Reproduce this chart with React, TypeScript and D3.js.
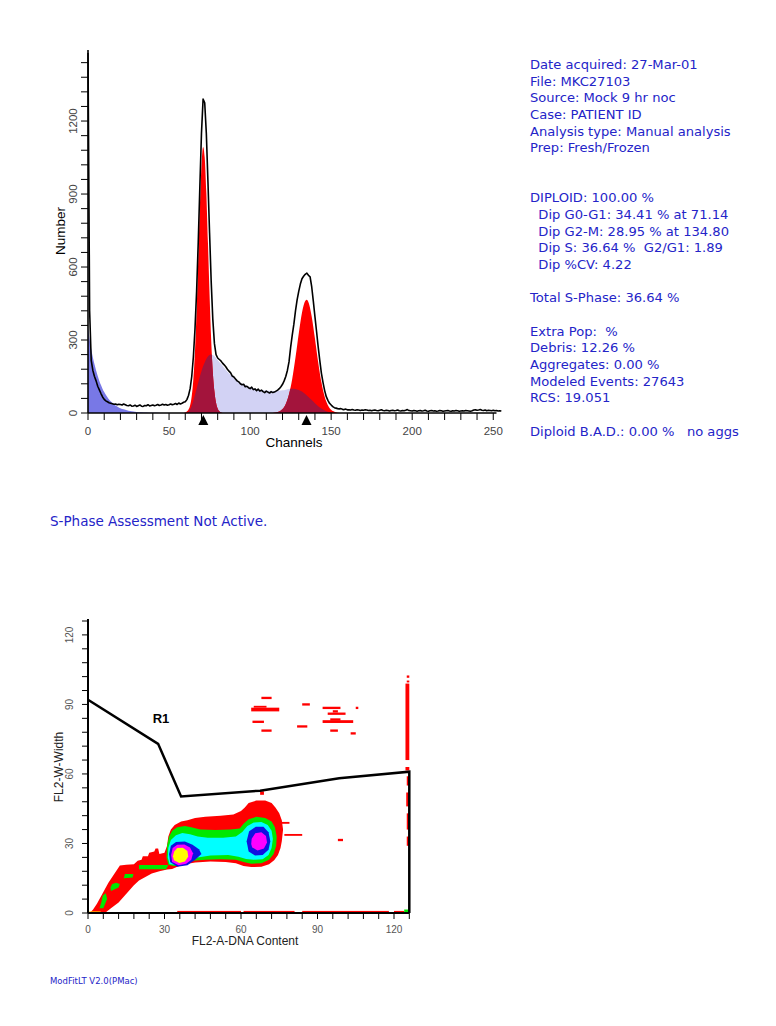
import React from 'react';
import * as d3 from 'd3';

// ---------------- Histogram data ----------------
const channelCounts: number[] = [
  1480, 420, 215, 175, 150, 132, 110, 95, 80, 66,
  56, 50, 46, 42, 40, 38, 36, 37, 34, 36,
  35, 33, 37, 34, 31, 30, 33, 28, 29, 32,
  27, 30, 33, 28, 27, 31, 30, 34, 29, 31,
  33, 30, 32, 35, 31, 33, 36, 33, 35, 32,
  34, 37, 34, 36, 39, 35, 41, 37, 40, 44,
  46, 55, 72, 100, 150, 230, 345, 500, 700, 930,
  1150, 1290, 1275, 1150, 950, 740, 540, 385, 285, 240,
  226, 220, 214, 205, 198, 190, 180, 172, 165, 152,
  148, 140, 132, 128, 120, 116, 118, 108, 110, 104,
  100, 106, 96, 99, 92, 98, 90, 94, 88, 84,
  90, 86, 82, 88, 84, 86, 90, 94, 100, 108,
  118, 132, 150, 175, 210, 270, 320, 365, 420, 465,
  500, 530, 552, 562, 570, 575, 566, 560, 519, 460,
  396, 335, 272, 215, 163, 125, 92, 67, 52, 40,
  33, 26, 22, 20, 18, 17, 18, 15, 14, 16,
  13, 13, 12, 14, 12, 11, 13, 12, 10, 12,
  11, 13, 12, 10, 11, 9, 11, 12, 10, 9,
  11, 13, 10, 9, 11, 10, 8, 10, 11, 9,
  10, 12, 9, 8, 10, 9, 11, 14, 10, 9,
  8, 10, 9, 7, 9, 10, 8, 9, 11, 8,
  7, 9, 10, 8, 9, 7, 8, 10, 9, 7,
  8, 9, 10, 8, 7, 9, 8, 10, 9, 7,
  8, 9, 8, 10, 9, 8, 7, 9, 12, 13,
  11, 12, 14, 11, 10, 12, 9, 11, 10, 9,
  11, 9, 10, 8, 9, 8,
];

const debrisChannels = [0, 1, 2, 3, 4, 5, 6, 7, 8, 9, 10, 11, 12, 13, 14, 15, 16, 17, 18, 19, 20, 22, 24, 26, 28, 30, 33, 36, 40, 45, 50];
const debrisCounts = [350, 302, 262, 228, 200, 175, 152, 132, 115, 99, 86, 75, 65, 56, 48, 42, 36, 31, 27, 23, 20, 15, 11, 8, 6, 4.5, 3, 2, 1, 0.3, 0];

const g1Channels = [59, 60, 61, 62, 63, 64, 65, 66, 67, 68, 69, 70, 71, 72, 73, 74, 75, 76, 77, 78, 79, 80, 81, 82, 83];
const g1Counts = [0, 2, 6, 14, 32, 70, 140, 255, 420, 630, 845, 1015, 1093, 1050, 905, 700, 485, 300, 168, 88, 42, 18, 7, 2, 0];

const g2Channels = [114, 116, 118, 120, 122, 124, 126, 128, 130, 132, 134, 135, 136, 138, 140, 142, 144, 146, 148, 150, 152, 154, 156];
const g2Counts = [0, 2, 6, 16, 37, 77, 141, 228, 326, 412, 460, 465, 455, 397, 306, 209, 126, 67, 32, 13, 5, 1.5, 0];

const sChannels = [60, 62, 63, 64, 65, 66, 67, 68, 69, 70, 71, 72, 73, 74, 75, 76, 77, 78, 79, 80,
  82, 84, 86, 88, 90, 92, 94, 96, 98, 100, 102, 104, 106, 108, 110, 112, 114, 116, 118, 120,
  122, 124, 126, 128, 130, 132, 134, 136, 138, 140, 142, 144, 146, 148, 150, 152];
const sCounts = [0, 5, 15, 30, 50, 75, 100, 125, 150, 172, 192, 208, 222, 232, 238, 240, 238, 233, 226, 218,
  202, 186, 170, 156, 144, 134, 125, 118, 112, 107, 103, 99, 96, 94, 92, 91, 90, 90, 91, 93,
  96, 99, 100, 99, 95, 88, 78, 66, 53, 40, 28, 18, 10, 5, 2, 0];

const peakMarkers = [71.14, 134.8];
const histXLabels = [0, 50, 100, 150, 200, 250];
const histYLabels = [0, 300, 600, 900, 1200];

const infoLines = [
  'Date acquired: 27-Mar-01',
  'File: MKC27103',
  'Source: Mock 9 hr noc',
  'Case: PATIENT ID',
  'Analysis type: Manual analysis',
  'Prep: Fresh/Frozen',
  '',
  '',
  'DIPLOID: 100.00 %',
  '  Dip G0-G1: 34.41 % at 71.14',
  '  Dip G2-M: 28.95 % at 134.80',
  '  Dip S: 36.64 %  G2/G1: 1.89',
  '  Dip %CV: 4.22',
  '',
  'Total S-Phase: 36.64 %',
  '',
  'Extra Pop:  %',
  'Debris: 12.26 %',
  'Aggregates: 0.00 %',
  'Modeled Events: 27643',
  'RCS: 19.051',
  '',
  'Diploid B.A.D.: 0.00 %   no aggs',
];

// ---------------- Dot plot data ----------------
type P = [number, number];
const densityLabels = [0, 30, 60, 90, 120];
const gateX = [0, 27.5, 36.5, 67.5, 98.5, 126, 126];
const gateY = [92, 73, 50.3, 52.8, 58.1, 61, 0];

const redRegion: P[] = [
  [1, 0.3], [7, 0.3], [9, 2], [12, 4.5], [14, 7], [16, 9.5], [18, 12], [20, 14], [22.5, 15.5], [25, 17],
  [28, 18], [31, 18.8], [33, 19], [35, 20], [38, 21], [42, 21.8], [48, 22.2], [54, 22], [58, 21.5],
  [61, 20.3], [64, 19.8], [68, 20], [71, 21], [73, 22.8], [74.5, 25], [75.5, 28], [76, 31], [76.5, 36],
  [76, 40], [75, 43], [73.5, 45.5], [72, 47.5], [69.5, 48.5], [66, 48.5], [63, 47.5], [61.5, 45.5],
  [60, 44], [57, 42.5], [52, 42], [46, 41.5], [42, 41], [39, 40], [36.5, 39.5], [34, 38], [32.5, 36],
  [31.5, 33], [31, 29], [30, 26], [28, 25.5], [27.5, 27.8], [26.5, 27.8], [26, 26.5], [24, 26],
  [23.5, 24.5], [21.5, 24.5], [21, 23], [19.5, 22.5], [18, 21], [15, 20.8], [12.5, 20.5], [11, 18],
  [9.5, 15.5], [8, 13], [6.5, 10], [5, 7], [3.5, 4], [2, 1.5],
];
const greenRegions: P[][] = [
  [[31.5, 20.8], [34, 20.2], [37, 21.2], [41, 22.5], [46, 23], [52, 23.2], [58, 23], [61, 22], [64, 21.3],
   [68, 21.5], [71, 23], [72.8, 25.5], [73.8, 29], [74, 33], [73.3, 37], [72, 39.5], [69.5, 41], [66, 41.5],
   [63, 40.5], [61, 38.5], [59.5, 36.5], [56, 36], [50, 35.8], [44, 36], [40.5, 37], [38, 37.5], [35, 37],
   [33, 35.5], [31.8, 33], [31, 29], [30.8, 24]],
  [[20, 18.9], [30.6, 18.9], [31.5, 20.7], [20, 20.7]],
  [[4.5, 2], [6, 2], [7.5, 6], [7, 8.5], [5.8, 7.5], [5.2, 4.5]],
  [[9, 9.5], [12, 11], [12.5, 12.5], [11, 13], [9.5, 12.5], [8.8, 11]],
  [[14, 15], [17.5, 15.3], [17.8, 16.8], [14.5, 16.8]],
];
const cyanRegion: P[] = [
  [32, 21], [35, 20.8], [39, 22], [43, 24], [48, 24.8], [55, 25], [59, 24.3], [62, 23.3], [65, 23],
  [68.5, 23.2], [70.8, 25], [72, 28], [72.5, 32], [72, 35.5], [70.5, 38], [68, 39.3], [65, 39], [62.5, 37.5],
  [60.5, 35], [58, 33], [53, 32.5], [47, 32.5], [43, 33], [40, 34], [37, 34.5], [34.5, 33.5], [32.5, 31.5],
  [31.5, 28], [31.3, 24],
];
const blueRegions: P[][] = [
  [[32.2, 22], [35, 20], [39, 20.6], [42, 23], [44.5, 25.5], [43.5, 27.5], [41, 29.5], [38, 30.8], [34.5, 30.6], [32.5, 29], [31.8, 25.5]],
  [[63, 26.5], [65.5, 24.8], [68.5, 25], [70.8, 27.3], [71.5, 31], [70.8, 34.8], [68.8, 37.2], [65.8, 37.2], [63.2, 35.3], [62.2, 31]],
];
const magentaRegions: P[][] = [
  [[33, 22], [35.5, 20.6], [38.5, 21.2], [40.5, 23], [41.2, 25.8], [40, 28.3], [37.8, 29.6], [35, 29.5], [33.2, 28], [32.6, 25]],
  [[64.4, 28.3], [66.5, 27], [69, 27.8], [70.2, 30.4], [69.8, 33.2], [68, 34.8], [65.6, 34.4], [64.2, 32], [64, 29.8]],
];
const yellowRegion: P[] = [
  [33.7, 22.8], [35.8, 21.6], [38, 22.2], [39.3, 24.3], [39, 26.8], [37.2, 28.2], [35, 28], [33.8, 26.5], [33.3, 24.5],
];
// isolated red cells: [x0, x1, y0, y1]
const redCells: [number, number, number, number][] = [
  [68, 72, 92.3, 93.3], [64, 75, 87, 88.6], [65, 70, 88.6, 89.4], [64.5, 69, 82, 83], [68, 72, 78.2, 79.2],
  [84, 87, 89.5, 90.5], [82, 86, 80, 81], [92, 99, 88, 89], [94, 101, 85.5, 86.5], [96, 98, 86.5, 87.5],
  [92, 104, 82, 83.2], [95, 99, 83, 84], [95, 98, 78.2, 79.2], [103, 105, 77, 78], [105, 106, 88, 89],
  [67.5, 69, 51, 52.5], [98, 100, 31, 32], [77, 84, 33.3, 34.1], [76, 79, 38.5, 39.3],
  [124.5, 126, 66, 99], [125, 126, 99.5, 100.3], [125, 126, 101.5, 102.5], [124.5, 126, 61.5, 63],
  [125, 126, 55, 59], [124.8, 126, 46, 52], [125, 126, 36, 43], [125, 126, 29, 33],
  [35, 60, 0, 0.9], [61, 81, 0, 0.9], [84, 118, 0, 0.9], [120, 124, 0, 0.9],
];
const greenCells: [number, number, number, number][] = [[124, 126, 0, 1.5]];
const yellowCells: [number, number, number, number][] = [[0.5, 5, 0, 0.7]];

// ---------------- Component ----------------
const FONT = '"Liberation Sans", Arial, sans-serif';
const INFO_FONT = '"DejaVu Sans", Verdana, sans-serif';
const TEXT_BLUE = '#2424c8';

export default function App() {
  // histogram scales
  const hx = d3.scaleLinear().domain([0, 255]).range([88, 88 + 255 * 1.621]);
  const hy = d3.scaleLinear().domain([0, 1492]).range([413, 50]);
  const area = d3.area<P>().x(d => hx(d[0])).y0(hy(0)).y1(d => hy(d[1])).curve(d3.curveMonotoneX);
  const zip = (a: number[], b: number[]): P[] => a.map((v, i) => [v, b[i]]);
  const debrisPath = area(zip(debrisChannels, debrisCounts)) || '';
  const g1Path = area(zip(g1Channels, g1Counts)) || '';
  const g2Path = area(zip(g2Channels, g2Counts)) || '';
  const sPath = area(zip(sChannels, sCounts)) || '';
  const dataLine = d3.line<number>()
    .x((_, i) => hx(i))
    .y(d => hy(Math.min(d, 1492)))(channelCounts) || '';
  const xMinor = d3.range(0, 251, 10);
  const yMinor = d3.range(0, 1441, 60);

  // dot plot scales
  const dx = d3.scaleLinear().domain([0, 126]).range([88, 409.3]);
  const dy = d3.scaleLinear().domain([0, 126]).range([913, 621]);
  const poly = d3.line<P>().x(d => dx(d[0])).y(d => dy(d[1])).curve(d3.curveLinearClosed);
  const gateLine = d3.line<number>().x(d => dx(d)).y((_, i) => dy(gateY[i]))(gateX) || '';
  const dTicks = d3.range(0, 127, 6);
  const cellRect = (c: [number, number, number, number], fill: string, k: string) => (
    <rect key={k} x={dx(c[0])} y={dy(c[3])} width={dx(c[1]) - dx(c[0])} height={dy(c[2]) - dy(c[3])} fill={fill} />
  );

  return (
    <svg width={776} height={1026} style={{ position: 'absolute', left: 0, top: 0, background: '#fff' }}
      xmlns="http://www.w3.org/2000/svg">
      <rect x={0} y={0} width={776} height={1026} fill="#fff" />
      <defs>
        <clipPath id="peakClip">
          <path d={g1Path} />
          <path d={g2Path} />
        </clipPath>
      </defs>

      {/* ---------- Histogram ---------- */}
      <path d={debrisPath} fill="#7878e6" />
      <path d={sPath} fill="#d2d2f4" />
      <path d={g1Path} fill="#ff0000" />
      <path d={g2Path} fill="#ff0000" />
      <path d={sPath} fill="#a3143c" clipPath="url(#peakClip)" />
      <path d={dataLine} fill="none" stroke="#000" strokeWidth={1.6} strokeLinejoin="round" />

      {/* axes */}
      <line x1={88} x2={88} y1={hy(0)} y2={50} stroke="#000" strokeWidth={1.6} />
      <line x1={88} x2={hx(252)} y1={hy(0)} y2={hy(0)} stroke="#000" strokeWidth={1.6} />
      {xMinor.map(t => (
        <line key={'hx' + t} x1={hx(t)} x2={hx(t)} y1={hy(0)} y2={hy(0) + 7} stroke="#000" strokeWidth={1} />
      ))}
      {yMinor.map(t => (
        <line key={'hy' + t} x1={88} x2={81} y1={hy(t)} y2={hy(t)} stroke="#000" strokeWidth={1} />
      ))}
      {histXLabels.map(t => (
        <text key={'hxl' + t} x={hx(t)} y={435} textAnchor="middle" fontFamily={FONT} fontSize={11.5} fill="#444">{t}</text>
      ))}
      {histYLabels.map(t => (
        <text key={'hyl' + t} transform={`translate(77,${hy(t)}) rotate(-90)`} textAnchor="middle"
          fontFamily={FONT} fontSize={11.5} fill="#444">{t}</text>
      ))}
      {peakMarkers.map(c => (
        <path key={'pk' + c} d={`M${hx(c) - 5},425 L${hx(c)},415 L${hx(c) + 5},425 Z`} fill="#000" />
      ))}
      <text x={294} y={447} textAnchor="middle" fontFamily={FONT} fontSize={13.5} fill="#000">Channels</text>
      <text transform="translate(65,231) rotate(-90)" textAnchor="middle" fontFamily={FONT} fontSize={13.5} fill="#000">Number</text>

      {/* info text */}
      {infoLines.map((s, i) => (
        s ? <text key={'info' + i} x={530} y={69 + i * 16.67} fontFamily={INFO_FONT} fontSize={13.1}
          fill={TEXT_BLUE} style={{ whiteSpace: 'pre' }}>{s}</text> : null
      ))}
      <text x={50} y={526} fontFamily={INFO_FONT} fontSize={13.5} fill={TEXT_BLUE}>S-Phase Assessment Not Active.</text>

      {/* ---------- Dot plot ---------- */}
      <path d={poly(redRegion) || ''} fill="#ff0000" />
      {redCells.map((c, i) => cellRect(c, '#ff0000', 'rc' + i))}
      {greenRegions.map((r, i) => <path key={'gr' + i} d={poly(r) || ''} fill="#00e800" />)}
      {greenCells.map((c, i) => cellRect(c, '#00e800', 'gc' + i))}
      {yellowCells.map((c, i) => cellRect(c, '#ffd200', 'yc' + i))}
      <path d={poly(cyanRegion) || ''} fill="#00ffff" />
      {blueRegions.map((r, i) => <path key={'bl' + i} d={poly(r) || ''} fill="#1010e0" />)}
      {magentaRegions.map((r, i) => <path key={'mg' + i} d={poly(r) || ''} fill="#ff00ff" />)}
      <path d={poly(yellowRegion) || ''} fill="#ffff00" />

      <path d={gateLine} fill="none" stroke="#000" strokeWidth={2.5} strokeLinejoin="miter" />
      <text x={161} y={723} textAnchor="middle" fontFamily={FONT} fontSize={13} fontWeight="bold" fill="#000">R1</text>

      <line x1={88} x2={88} y1={dy(0)} y2={619} stroke="#000" strokeWidth={2} />
      <line x1={88} x2={dx(126)} y1={dy(0)} y2={dy(0)} stroke="#000" strokeWidth={2} />
      {dTicks.map(t => (
        <line key={'dxt' + t} x1={dx(t)} x2={dx(t)} y1={dy(0)} y2={dy(0) + 6} stroke="#000" strokeWidth={1} />
      ))}
      {dTicks.map(t => (
        <line key={'dyt' + t} x1={88} x2={82} y1={dy(t)} y2={dy(t)} stroke="#000" strokeWidth={1} />
      ))}
      {densityLabels.map(t => (
        <text key={'dxl' + t} x={dx(t)} y={933} textAnchor="middle" fontFamily={FONT} fontSize={10} fill="#555">{t}</text>
      ))}
      {densityLabels.map(t => (
        <text key={'dyl' + t} transform={`translate(73,${dy(t)}) rotate(-90)`} textAnchor="middle"
          fontFamily={FONT} fontSize={10} fill="#555">{t}</text>
      ))}
      <text x={245} y={945} textAnchor="middle" fontFamily={FONT} fontSize={12} fill="#222">FL2-A-DNA Content</text>
      <text transform="translate(63,767) rotate(-90)" textAnchor="middle" fontFamily={FONT} fontSize={12} fill="#222">FL2-W-Width</text>

      <text x={50} y={984} fontFamily={INFO_FONT} fontSize={8.5} fill={TEXT_BLUE}>ModFitLT V2.0(PMac)</text>
    </svg>
  );
}
